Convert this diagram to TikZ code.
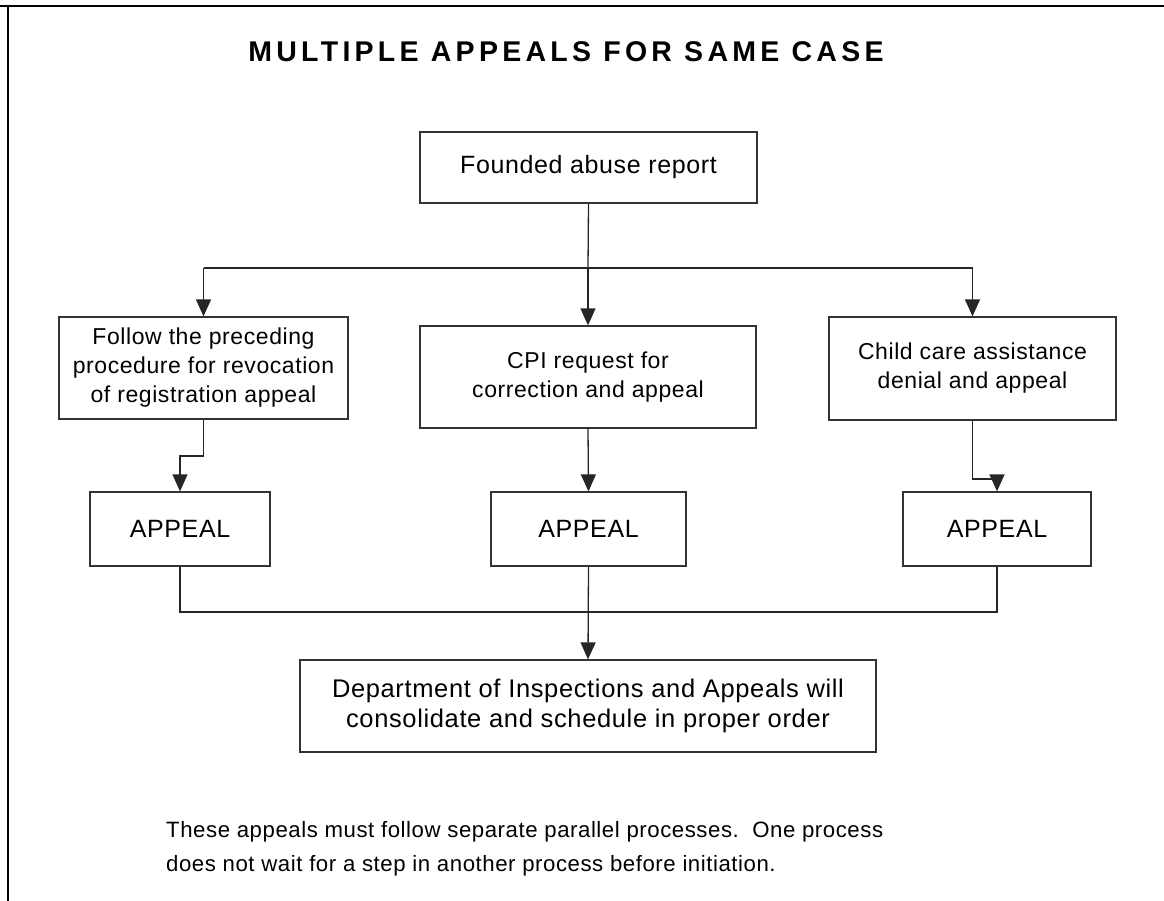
\documentclass[tikz,border=0pt]{standalone}
\usepackage{fontspec}
\setmainfont{Liberation Sans}
\usetikzlibrary{arrows.meta}
\newfontfamily\bodyfont[LetterSpace=2.5]{Liberation Sans}
\newfontfamily\titlefont[LetterSpace=15]{Liberation Sans Bold}
\tikzset{
  boxnode/.style={draw=black!80, line width=1.3pt, rectangle, inner sep=0pt, align=center,
    font=\bodyfont\fontsize{25}{30}\selectfont},
  smallbox/.style={boxnode, font=\bodyfont\fontsize{23}{29}\selectfont},
  conn/.style={line width=1.3pt, draw=black!85},
  arr/.style={conn, -{Triangle[width=15pt,length=17pt]}},
  frame/.style={line width=2.2pt, draw=black}
}
\begin{document}
\begin{tikzpicture}[x=1pt,y=-1pt]
\useasboundingbox (0,0) rectangle (1164,901);
% frame
\draw[frame] (0,6) -- (1164,6);
\draw[frame] (8,6) -- (8,901);
% title
\node[font=\titlefont\fontsize{28.5}{33}\selectfont] (title) at (566,52) {MULTIPLE APPEALS FOR SAME CASE};
% boxes
\node[boxnode, minimum width=337pt, minimum height=71pt] (top) at (588.5,167.5) {Founded abuse report};
\node[smallbox, minimum width=289pt, minimum height=102pt] (l1) at (203.5,368) {Follow the preceding\\procedure for revocation\\of registration appeal};
\node[smallbox, minimum width=336pt, minimum height=102pt] (m1) at (588,377) {CPI request for\\correction and appeal};
\node[smallbox, minimum width=287pt, minimum height=103pt] (r1) at (972.5,368.5) {Child care assistance\\denial and appeal};
\node[boxnode, minimum width=180pt, minimum height=74pt] (l2) at (180,529) {APPEAL};
\node[boxnode, minimum width=195pt, minimum height=74pt] (m2) at (588.5,529) {APPEAL};
\node[boxnode, minimum width=188pt, minimum height=74pt] (r2) at (997,529) {APPEAL};
\node[boxnode, font=\bodyfont\fontsize{25.5}{30}\selectfont, minimum width=576pt, minimum height=92pt] (dia) at (588,706) {Department of Inspections and Appeals will\\consolidate and schedule in proper order};
\node[font=\bodyfont\fontsize{22.2}{34}\selectfont, align=left, anchor=west, inner sep=0pt] (note) at (166,849) {These appeals must follow separate parallel processes.\ \ One process\\does not wait for a step in another process before initiation.};
% connectors
\coordinate (split) at (588,268);
\draw[conn] (top.south) -- (split);
\draw[conn] (203.5,268) -- (972.5,268);
\draw[arr] (203.5,268) -- (l1.north);
\draw[arr] (split) -- (m1.north);
\draw[arr] (972.5,268) -- (r1.north);
\draw[arr] (l1.south) -- (203.5,456) -| (l2.north);
\draw[arr] (m1.south) -- (m2.north);
\draw[arr] (r1.south) -- (972.5,479) -| (r2.north);
\draw[conn] (l2.south) |- (588.5,612);
\draw[conn] (r2.south) |- (588.5,612);
\draw[arr] (m2.south) -- (dia.north);
\end{tikzpicture}
\end{document}
